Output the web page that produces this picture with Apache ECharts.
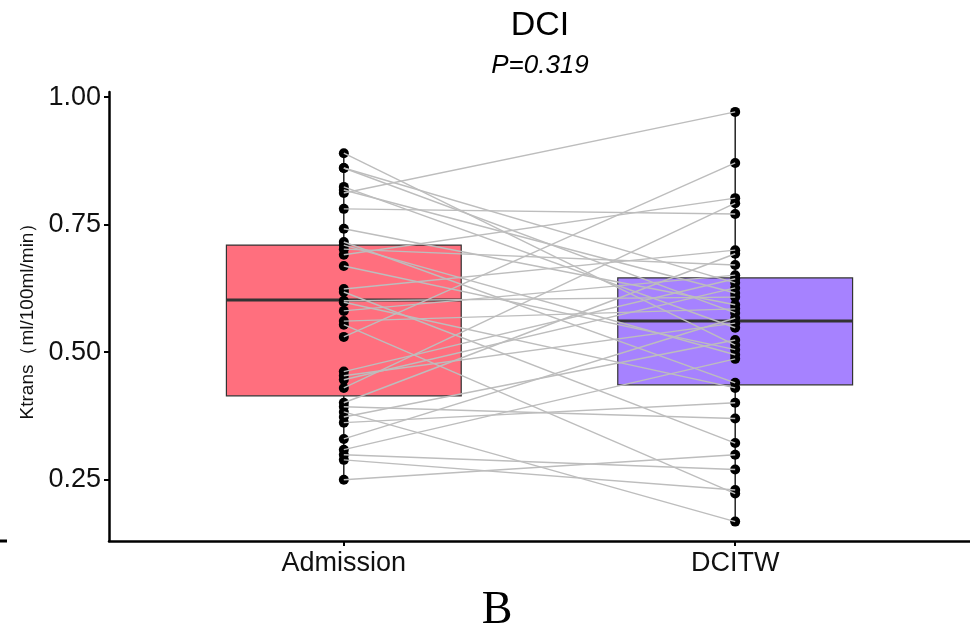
<!DOCTYPE html>
<html><head><meta charset="utf-8">
<script src="https://cdn.jsdelivr.net/npm/echarts@6/dist/echarts.min.js"></script>
<style>html,body{margin:0;padding:0;background:#fff}#c{width:970px;height:637px}</style>
</head><body><div id="c"></div>
<script>
const categories = ['Admission', 'DCITW'];
// paired values (index i of admission pairs with index i of dcitw)
const admission = [0.890, 0.861, 0.861, 0.824, 0.818, 0.812, 0.781, 0.742, 0.716, 0.710, 0.702, 0.691, 0.669, 0.624, 0.618, 0.601, 0.598, 0.581, 0.561, 0.554, 0.530, 0.462, 0.454, 0.446, 0.430, 0.401, 0.393, 0.383, 0.373, 0.362, 0.330, 0.309, 0.299, 0.289, 0.250];
const dcitw     = [0.514, 0.577, 0.636, 0.548, 0.616, 0.971, 0.771, 0.593, 0.440, 0.495, 0.671, 0.802, 0.505, 0.700, 0.322, 0.608, 0.430, 0.651, 0.585, 0.223, 0.871, 0.644, 0.557, 0.626, 0.792, 0.693, 0.370, 0.168, 0.524, 0.401, 0.567, 0.487, 0.270, 0.230, 0.299];
// [min, Q1, median, Q3, max]
const boxStats = [[0.250, 0.4145, 0.6025, 0.710, 0.890], [0.168, 0.436, 0.5614, 0.6456, 0.971]];
const yTicks = [0.25, 0.50, 0.75, 1.00];
const titleText = 'DCI';
const pText = 'P=0.319';
const yName = 'Ktrans（ml/100ml/min）';
const boxColors = ['#FF6F7E', '#A682FF'];

const chart = echarts.init(document.getElementById('c'), null, {renderer: 'canvas'});
const font = '"Liberation Sans", Arial, sans-serif';

const boxData = boxStats.map((s, i) => [i + 1].concat(s));
const pointData = [];
admission.forEach(v => pointData.push([1, v]));
dcitw.forEach(v => pointData.push([2, v]));
const lineData = admission.map((a, i) => ({coords: [[1, a], [2, dcitw[i]]]}));

chart.setOption({
  animation: false,
  backgroundColor: '#fff',
  grid: {left: 109, top: 92, width: 862, height: 449, containLabel: false},
  xAxis: {
    type: 'value', min: 0.4, max: 2.6,
    axisLine: {show: true, lineStyle: {color: '#000', width: 2.5}},
    axisTick: {show: true, customValues: [1, 2], length: 5, lineStyle: {color: '#000', width: 2}},
    axisLabel: {customValues: [1, 2], formatter: v => categories[Math.round(v) - 1], fontSize: 27, color: '#111', fontFamily: font, margin: 9},
    splitLine: {show: false}
  },
  yAxis: {
    type: 'value', min: 0.13, max: 1.01,
    name: yName, nameLocation: 'middle', nameRotate: 90, nameGap: 66,
    nameTextStyle: {fontSize: 19, color: '#111', fontFamily: font},
    axisLine: {show: true, lineStyle: {color: '#000', width: 2.5}},
    axisTick: {show: true, customValues: yTicks, length: 5, lineStyle: {color: '#000', width: 2}},
    axisLabel: {customValues: yTicks, formatter: v => v.toFixed(2), fontSize: 27, color: '#111', fontFamily: font, margin: 8},
    splitLine: {show: false}
  },
  graphic: [
    {type: 'text', x: 540, y: 26, style: {text: titleText, fontSize: 34, fontFamily: font, fill: '#000', align: 'center', verticalAlign: 'middle'}},
    {type: 'text', x: 540, y: 66, style: {text: pText, fontSize: 26, fontStyle: 'italic', fontFamily: font, fill: '#000', align: 'center', verticalAlign: 'middle'}},
    {type: 'text', x: 497, y: 611, style: {text: 'B', fontSize: 46, fontFamily: '"Liberation Serif", "Times New Roman", serif', fill: '#000', align: 'center', verticalAlign: 'middle'}},
    {type: 'rect', shape: {x: 0, y: 539.5, width: 7, height: 3}, style: {fill: '#000'}}
  ],
  series: [
    {
      type: 'custom', z: 1, silent: true,
      data: boxData,
      renderItem: function (params, api) {
        const x = api.value(0);
        const pMin = api.coord([x, api.value(1)]);
        const pQ1 = api.coord([x, api.value(2)]);
        const pMed = api.coord([x, api.value(3)]);
        const pQ3 = api.coord([x, api.value(4)]);
        const pMax = api.coord([x, api.value(5)]);
        const half = api.size([0.3, 0])[0];
        const color = boxColors[params.dataIndex];
        return {
          type: 'group',
          children: [
            {type: 'line', shape: {x1: pMin[0], y1: pMin[1], x2: pQ1[0], y2: pQ1[1]}, style: {stroke: '#000', lineWidth: 1.3}},
            {type: 'line', shape: {x1: pQ3[0], y1: pQ3[1], x2: pMax[0], y2: pMax[1]}, style: {stroke: '#000', lineWidth: 1.3}},
            {type: 'rect', shape: {x: pQ3[0] - half, y: pQ3[1], width: half * 2, height: pQ1[1] - pQ3[1]}, style: {fill: color, stroke: '#333', lineWidth: 1.2}},
            {type: 'line', shape: {x1: pMed[0] - half, y1: pMed[1], x2: pMed[0] + half, y2: pMed[1]}, style: {stroke: '#333', lineWidth: 3}}
          ]
        };
      }
    },
    {
      type: 'scatter', z: 2, silent: true,
      data: pointData, symbol: 'circle', symbolSize: 10,
      itemStyle: {color: '#000', opacity: 1}
    },
    {
      type: 'lines', z: 3, coordinateSystem: 'cartesian2d', silent: true,
      data: lineData,
      lineStyle: {color: '#BDBDBD', width: 1.4, opacity: 1, curveness: 0}
    }
  ]
});
</script></body></html>
